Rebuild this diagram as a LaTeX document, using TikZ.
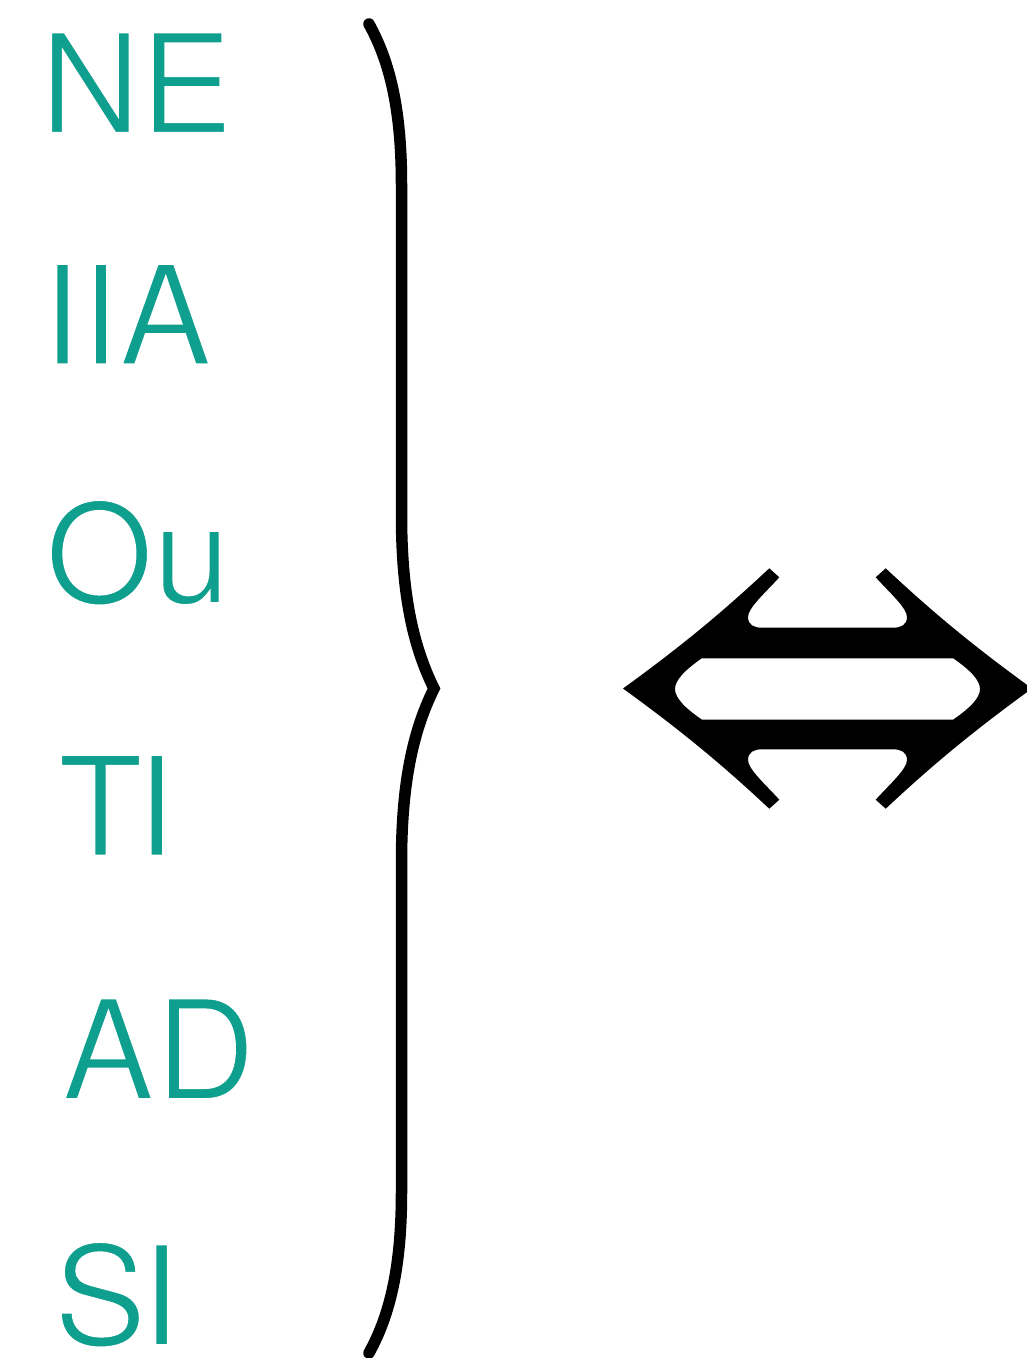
\documentclass[tikz,border=0pt]{standalone}
\usepackage{fontspec}
\setmainfont{TeX Gyre Heros}
\definecolor{tealtxt}{RGB}{14,159,143}
\newcommand\thintext[2][2.4]{\special{pdf:literal direct 1 1 1 RG 2 Tr #1 w}#2\special{pdf:literal direct 0 Tr 0 0 0 RG 1 w}}
\begin{document}
\begin{tikzpicture}[x=1pt,y=-1pt,
  lbl/.style={anchor=base west,inner sep=0pt,outer sep=0pt,text=tealtxt,
    font=\fontsize{138.5}{138.5}\selectfont},
  bracestroke/.style={line width=11.5pt,line cap=round,line join=miter,miter limit=20},
  arrowfill/.style={fill=black,even odd rule}]
\useasboundingbox (0,0) rectangle (1026,1358);
% labels
\node[lbl] (ne) at (40.3,133.2) {\thintext{NE}};
\node[lbl] (iia) at (42.2,364.6) {\thintext{IIA}};
\node[lbl] (ou) at (45.4,603.2) {\thintext{Ou}};
\node[lbl] (ti) at (57.9,855.7) {\thintext{T\kern-6pt I}};
\node[lbl] (ad) at (61.9,1099.2) {\thintext{A\kern1pt D}};
\node[lbl] (si) at (54,1345.2) {\thintext{S\kern-5pt I}};
% brace
\draw[bracestroke] (369,24) .. controls (390,62) and (401.5,110) .. (401.5,185)
  -- (401.5,515) .. controls (401.5,600) and (415,650) .. (434,688.5)
  .. controls (415,727) and (401.5,777) .. (401.5,862)
  -- (401.5,1192) .. controls (401.5,1267) and (390,1315) .. (369,1353);
% double arrow
\path[arrowfill]
  (623,688.5) .. controls (690,640) and (730,605) .. (769.3,568.3)
  -- (779.3,577.3) .. controls (765,593) and (748,608) .. (748,617)
  .. controls (748,625) and (754,627.7) .. (762,627.7)
  -- (893,627.7) .. controls (901,627.7) and (907,625) .. (907,617)
  .. controls (907,608) and (890,593) .. (875.7,577.3)
  -- (885.7,568.3) .. controls (925,605) and (965,640) .. (1032,688.5)
  .. controls (965,737) and (925,772) .. (885.7,808.7)
  -- (875.7,799.7) .. controls (890,784) and (907,769) .. (907,760)
  .. controls (907,752) and (901,749.3) .. (893,749.3)
  -- (762,749.3) .. controls (754,749.3) and (748,752) .. (748,760)
  .. controls (748,769) and (765,784) .. (779.3,799.7)
  -- (769.3,808.7) .. controls (730,772) and (690,737) .. (623,688.5) -- cycle
  (701.7,658.3) -- (953.3,658.3)
  .. controls (970,670) and (980,680) .. (980,689)
  .. controls (980,698) and (970,708) .. (953.3,719.5)
  -- (701.7,719.5) .. controls (685,708) and (675,698) .. (675,689)
  .. controls (675,680) and (685,670) .. (701.7,658.3) -- cycle;
\end{tikzpicture}
\end{document}
